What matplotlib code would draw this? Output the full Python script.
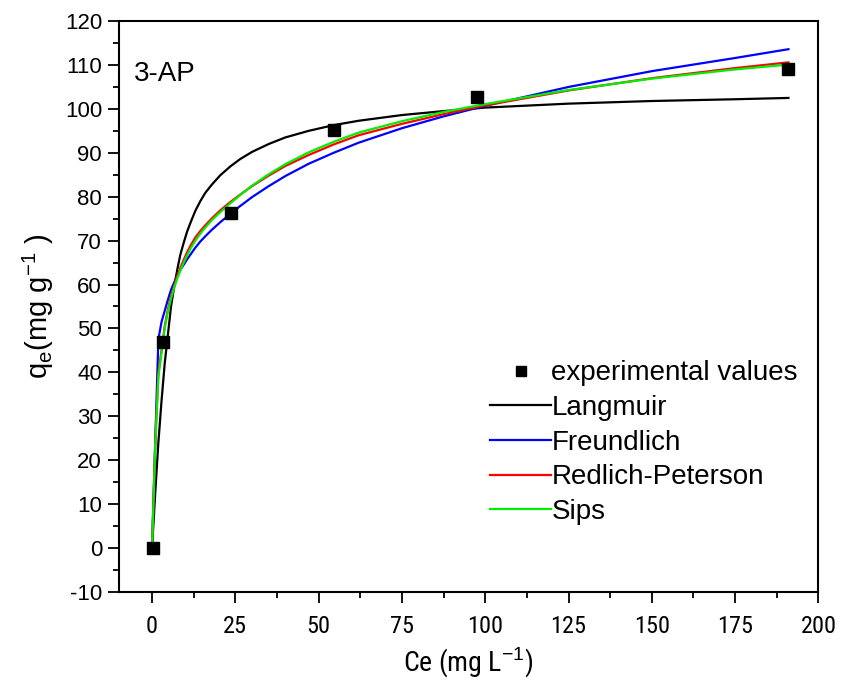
import matplotlib
matplotlib.use("Agg")
import matplotlib.pyplot as plt
from matplotlib import font_manager
from matplotlib.ticker import MultipleLocator

plt.rcParams["font.family"] = ["Liberation Sans", "DejaVu Sans"]
plt.rcParams["mathtext.fontset"] = "custom"
plt.rcParams["mathtext.rm"] = "Liberation Sans"
plt.rcParams["axes.unicode_minus"] = False

# the x axis in the original uses a narrow face; take one if installed
installed = {f.name for f in font_manager.fontManager.ttflist}
narrow = "Liberation Sans"
for name in ["Liberation Sans Narrow", "DejaVu Sans Condensed", "Roboto Condensed"]:
    if name in installed:
        narrow = name
        break

# experimental points
exp_ce = [0.2, 3.3, 23.7, 54.7, 97.4, 190.9]
exp_qe = [0.0, 46.8, 76.2, 95.3, 102.6, 109.2]

# fitted curves
ce_fit = [0, 1, 1.9, 2.85, 3.8, 4.75, 5.7, 6.65, 7.6, 8.5, 9.5, 10.5, 11.5, 13,
          14.5, 16, 18, 20.5, 23.5, 26.5, 30, 35, 40, 47, 54.5, 62, 75, 87.5,
          100, 125, 150, 175, 191]
langmuir = [0, 13, 24, 33.5, 42, 48.5, 55, 59.5, 63.5, 66.8, 69.5, 72, 74, 76.8,
            79, 80.9, 82.8, 84.9, 86.9, 88.6, 90.2, 92, 93.5, 95, 96.3, 97.3, 98.6, 99.5,
            100.3, 101.2, 101.8, 102.2, 102.5]
freundlich = [0, 25, 47.5, 51.5, 54, 56.5, 58.8, 60.5, 62, 63.3, 64.5, 65.7, 66.8, 68.4,
              69.8, 71.0, 72.5, 74.2, 76.1, 77.9, 79.9, 82.4, 84.7, 87.5, 90.0, 92.3, 95.6, 98.3,
              100.7, 105, 108.6, 111.6, 113.6]
redlich_peterson = [0, 25, 40, 45, 50.5, 54.3, 57.3, 59.8, 62, 63.8, 65.6, 67.3, 68.8, 70.7,
                    72.2, 73.5, 75.1, 76.9, 78.8, 80.5, 82.4, 84.8, 87.0, 89.5, 91.9, 94.0, 96.6, 98.8,
                    100.8, 104.2, 107.0, 109.3, 110.6]
sips = [0, 24, 39, 44.5, 50, 53.8, 56.8, 59.3, 61.4, 63.2, 65.0, 66.6, 68.1, 70.0,
        71.6, 73.0, 74.7, 76.5, 78.5, 80.4, 82.5, 85.1, 87.4, 90.1, 92.5, 94.6, 97.2, 99.3,
        101.1, 104.3, 106.9, 109.0, 110.1]

fig = plt.figure(figsize=(8.42, 6.81), dpi=100)
ax = fig.add_axes([0.141, 0.131, 0.831, 0.838])

ax.plot(ce_fit, langmuir, color="black", lw=1.6, label="Langmuir", zorder=3)
ax.plot(ce_fit, freundlich, color="#0000ff", lw=1.6, label="Freundlich", zorder=3)
ax.plot(ce_fit, redlich_peterson, color="#ff0000", lw=1.6, label="Redlich-Peterson", zorder=3)
ax.plot(ce_fit, sips, color="#00ee00", lw=1.6, label="Sips", zorder=3)
ax.plot(exp_ce, exp_qe, ls="none", marker="s", ms=9, color="black",
        label="experimental values", zorder=4)

ax.set_xlim(-10, 200)
ax.set_ylim(-10, 120)
ax.xaxis.set_major_locator(MultipleLocator(25))
ax.xaxis.set_minor_locator(MultipleLocator(12.5))
ax.yaxis.set_major_locator(MultipleLocator(10))
ax.yaxis.set_minor_locator(MultipleLocator(5))
ax.set_xticks(range(0, 201, 25))

ax.tick_params(which="both", direction="out", width=1.3, top=False, right=False)
ax.tick_params(which="major", length=8)
ax.tick_params(which="minor", length=4)
ax.tick_params(axis="y", labelsize=16, pad=4)
ax.tick_params(axis="x", labelsize=17.5, pad=9)
for lbl in ax.get_xticklabels():
    lbl.set_family(narrow)
for sp in ax.spines.values():
    sp.set_linewidth(1.5)

ax.set_xlabel(r"Ce (mg L$^{-1}$)", fontsize=20, labelpad=5, family=narrow)
ax.set_ylabel(r"q$_{\rm e}$(mg g$^{-1}$ )", fontsize=21, labelpad=6)

ax.text(-5.5, 108, "3-AP", fontsize=20, va="center", ha="left")

handles, labels = ax.get_legend_handles_labels()
order = [4, 0, 1, 2, 3]
ax.legend([handles[i] for i in order], [labels[i] for i in order],
          loc="upper left", bbox_to_anchor=(0.569, 0.487), bbox_transform=fig.transFigure,
          frameon=False, fontsize=20, handlelength=2.2, handletextpad=0.0,
          labelspacing=0.31, borderaxespad=0, markerscale=0.85)

fig.savefig("out.png", dpi=100)
